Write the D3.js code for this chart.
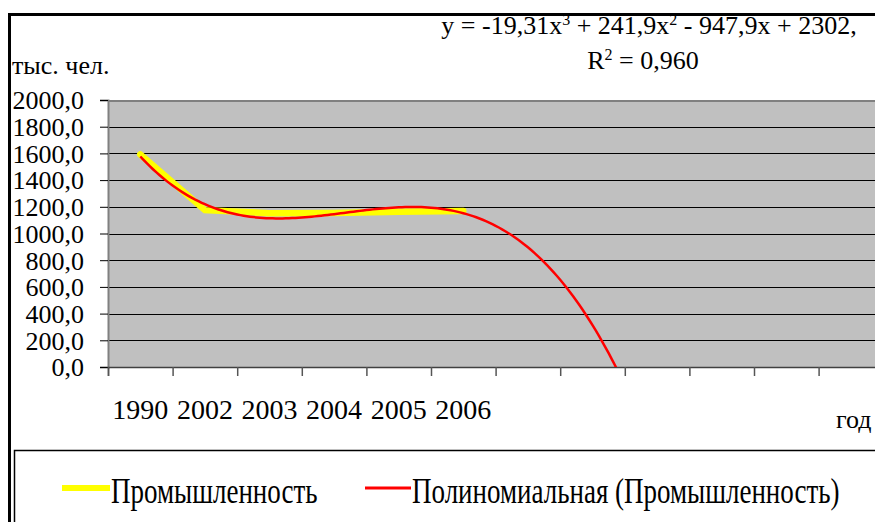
<!DOCTYPE html>
<html>
<head>
<meta charset="utf-8">
<script src="https://cdn.jsdelivr.net/npm/d3@7"></script>
<style>
  body { margin: 0; background: #fff; }
  svg text { font-family: "Liberation Serif", "Times New Roman", serif; fill: #000; }
</style>
</head>
<body>
<svg id="chart" width="875" height="522"></svg>
<script>
// categories on the x axis (the fit is forecast further, those slots have no label)
var years = ["1990", "2002", "2003", "2004", "2005", "2006"];
var industry = [1592, 1175, 1152, 1153, 1163, 1168];
// cubic trendline printed on the chart: a3*x^3 + a2*x^2 + a1*x + a0
var trendCoef = [-19.31, 241.9, -947.9, 2302];
var yTicks = [0, 200, 400, 600, 800, 1000, 1200, 1400, 1600, 1800, 2000];
var nSlots = 12;

var font = '"Liberation Serif", "Times New Roman", serif';
var svg = d3.select("#chart");
var plotLeft = 108, plotTop = 100, plotBottom = 367;
var slotW = 64.6;
var plotRight = plotLeft + slotW * nSlots;

var x = d3.scaleLinear().domain([0.5, nSlots + 0.5]).range([plotLeft, plotRight]);
var y = d3.scaleLinear().domain([0, 2000]).range([plotBottom, plotTop]);

// outer frame
svg.append("rect")
    .attr("x", 9.5).attr("y", 14.5)
    .attr("width", 900).attr("height", 600)
    .attr("fill", "#fff")
    .attr("stroke", "#000")
    .attr("stroke-width", 3);

// plot background
svg.append("rect")
    .attr("x", plotLeft).attr("y", plotTop)
    .attr("width", plotRight - plotLeft).attr("height", plotBottom - plotTop)
    .attr("fill", "#c0c0c0");

svg.append("clipPath").attr("id", "plotClip")
  .append("rect")
    .attr("x", plotLeft).attr("y", plotTop)
    .attr("width", plotRight - plotLeft).attr("height", plotBottom - plotTop);

// gridlines
svg.selectAll(".grid")
    .data(yTicks.filter(function(d) { return d > 0 && d < 2000; }))
    .enter()
    .append("line")
    .attr("x1", plotLeft).attr("x2", plotRight)
    .attr("y1", function(d) { return Math.round(y(d)) + 0.5; })
    .attr("y2", function(d) { return Math.round(y(d)) + 0.5; })
    .attr("stroke", "#000")
    .attr("stroke-width", 1.2);

// top border of plot
svg.append("line")
    .attr("x1", plotLeft).attr("x2", plotRight)
    .attr("y1", plotTop + 1).attr("y2", plotTop + 1)
    .attr("stroke", "#808080").attr("stroke-width", 2);

// y axis
var yAxis = svg.append("g")
    .attr("transform", "translate(" + plotLeft + ",0)")
    .call(d3.axisLeft(y).tickValues(yTicks).tickSize(8).tickPadding(16)
        .tickFormat(function(d) { return d3.format(".1f")(d).replace(".", ","); }));
yAxis.select(".domain").attr("stroke", "#808080").attr("stroke-width", 2);
yAxis.selectAll(".tick line").attr("stroke", "#000");
yAxis.selectAll("text")
    .style("font-family", font)
    .style("font-size", "26px")
    .attr("dy", "0.34em");

// x axis
var xAxis = svg.append("g")
    .attr("transform", "translate(0," + plotBottom + ")")
    .call(d3.axisBottom(x).tickValues(d3.range(0.5, nSlots + 0.5, 1)).tickSize(9).tickFormat(""));
xAxis.select(".domain").attr("stroke", "#404040").attr("stroke-width", 1.5);
xAxis.selectAll(".tick line").attr("stroke", "#555").attr("stroke-width", 1.5);

svg.selectAll(".xlabel")
    .data(years)
    .enter()
    .append("text")
    .attr("x", function(d, i) { return x(i + 1); })
    .attr("y", 419)
    .attr("text-anchor", "middle")
    .style("font-family", font)
    .style("font-size", "28px")
    .text(function(d) { return d; });

// data line
var plot = svg.append("g").attr("clip-path", "url(#plotClip)");
plot.append("path")
    .datum(industry)
    .attr("d", d3.line()
        .x(function(d, i) { return x(i + 1); })
        .y(function(d) { return y(d); }))
    .attr("fill", "none")
    .attr("stroke", "#ffff00")
    .attr("stroke-width", 6.5)
    .attr("stroke-linecap", "round")
    .attr("stroke-linejoin", "miter");

// polynomial trendline
function trend(t) {
    return ((trendCoef[0] * t + trendCoef[1]) * t + trendCoef[2]) * t + trendCoef[3];
}
var trendPts = d3.range(1, 8.6, 0.05);
plot.append("path")
    .datum(trendPts)
    .attr("d", d3.line()
        .x(function(t) { return x(t); })
        .y(function(t) { return y(trend(t)); }))
    .attr("fill", "none")
    .attr("stroke", "#ff0000")
    .attr("stroke-width", 2.5);

// axis titles
svg.append("text")
    .attr("x", 12).attr("y", 74)
    .style("font-family", font)
    .style("font-size", "26px")
    .text("тыс. чел.");
svg.append("text")
    .attr("x", 836).attr("y", 428)
    .style("font-family", font)
    .style("font-size", "26px")
    .text("год");

// trendline equation
var eq = svg.append("text")
    .attr("x", 649).attr("y", 34)
    .attr("text-anchor", "middle")
    .style("font-family", font)
    .style("font-size", "26px");
eq.append("tspan").text("y = -19,31x");
eq.append("tspan").attr("dy", -9).style("font-size", "16px").text("3");
eq.append("tspan").attr("dy", 9).text(" + 241,9x");
eq.append("tspan").attr("dy", -9).style("font-size", "16px").text("2");
eq.append("tspan").attr("dy", 9).text(" - 947,9x + 2302,");
var r2 = svg.append("text")
    .attr("x", 643).attr("y", 69)
    .attr("text-anchor", "middle")
    .style("font-family", font)
    .style("font-size", "26px");
r2.append("tspan").text("R");
r2.append("tspan").attr("dy", -9).style("font-size", "16px").text("2");
r2.append("tspan").attr("dy", 9).text(" = 0,960");

// legend
svg.append("rect")
    .attr("x", 14.5).attr("y", 450.5)
    .attr("width", 900).attr("height", 200)
    .attr("fill", "#fff")
    .attr("stroke", "#000")
    .attr("stroke-width", 1.5);

var legendItems = [
    { label: "Промышленность", color: "#ffff00", width: 6, x1: 62, x2: 110, tx: 111 },
    { label: "Полиномиальная (Промышленность)", color: "#ff0000", width: 3, x1: 365, x2: 411, tx: 412 }
];
legendItems.forEach(function(item) {
    svg.append("line")
        .attr("x1", item.x1).attr("x2", item.x2)
        .attr("y1", 488).attr("y2", 488)
        .attr("stroke", item.color)
        .attr("stroke-width", item.width);
    svg.append("g")
        .attr("transform", "translate(" + item.tx + ",503) scale(1,1.3)")
      .append("text")
        .attr("x", 0).attr("y", 0)
        .style("font-family", font)
        .style("font-size", "27px")
        .text(item.label);
});
</script>
</body>
</html>
